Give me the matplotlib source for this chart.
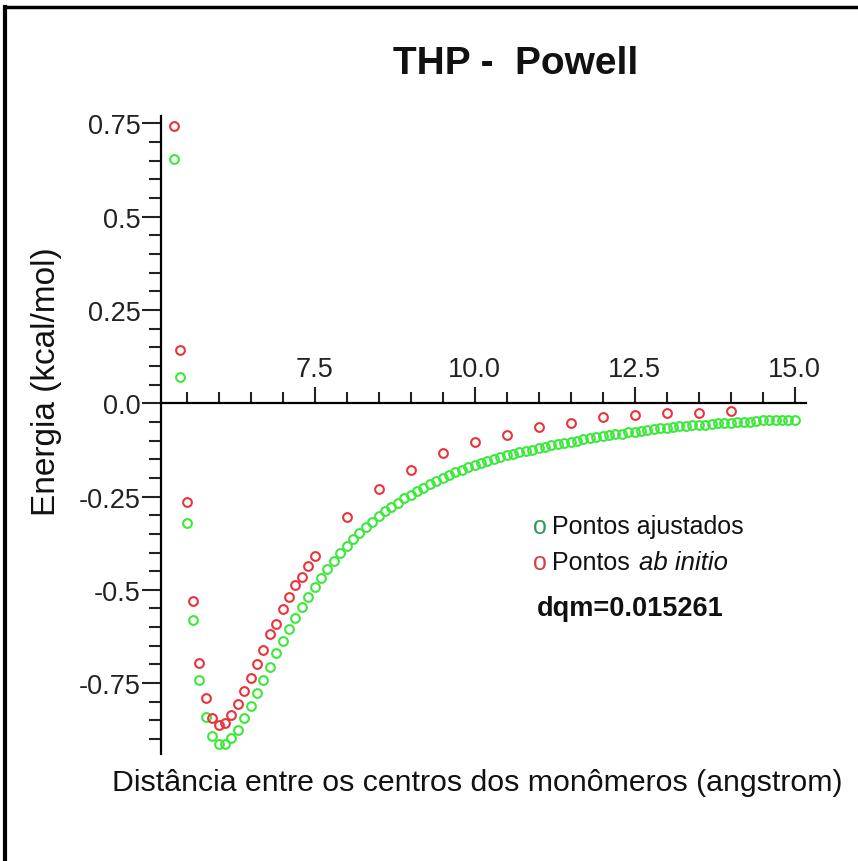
import matplotlib
matplotlib.use("Agg")
import matplotlib.pyplot as plt
from matplotlib.ticker import MultipleLocator, FixedLocator
from matplotlib.lines import Line2D

plt.rcParams['font.family'] = ['Liberation Sans', 'DejaVu Sans']

# ab initio points
x_abinitio = [5.3, 5.4, 5.5, 5.6, 5.7, 5.8, 5.9, 6.0, 6.1, 6.2, 6.3, 6.4, 6.5,
              6.6, 6.7, 6.8, 6.9, 7.0, 7.1, 7.2, 7.3, 7.4, 7.5,
              8.0, 8.5, 9.0, 9.5, 10.0, 10.5, 11.0, 11.5, 12.0, 12.5, 13.0, 13.5, 14.0]
y_abinitio = [0.743, 0.142, -0.265, -0.529, -0.695, -0.789, -0.843, -0.862, -0.858,
              -0.836, -0.807, -0.770, -0.737, -0.699, -0.661, -0.619, -0.592, -0.552,
              -0.520, -0.487, -0.465, -0.435, -0.409,
              -0.305, -0.230, -0.178, -0.134, -0.103, -0.085, -0.063, -0.052, -0.038,
              -0.031, -0.027, -0.027, -0.020]

# fitted points (0.1 step from 5.3 to 15.0)
x_fit = [round(5.3 + 0.1 * i, 1) for i in range(98)]
y_fit = [0.654, 0.070, -0.322, -0.581, -0.742, -0.840, -0.892, -0.914, -0.914, -0.898,
         -0.876, -0.843, -0.811, -0.777, -0.742, -0.706, -0.670, -0.637, -0.606, -0.575,
         -0.545, -0.518, -0.492, -0.468, -0.445, -0.423, -0.402, -0.382, -0.365, -0.348,
         -0.332, -0.317, -0.303, -0.290, -0.278, -0.266, -0.255, -0.245, -0.235, -0.226,
         -0.217, -0.208, -0.200, -0.193, -0.185, -0.178, -0.172, -0.165, -0.160, -0.154,
         -0.149, -0.144, -0.139, -0.135, -0.131, -0.127, -0.124, -0.120, -0.117, -0.113,
         -0.110, -0.106, -0.103, -0.100, -0.097, -0.094, -0.091, -0.088, -0.086, -0.083,
         -0.081, -0.078, -0.076, -0.074, -0.072, -0.070, -0.067, -0.065, -0.064, -0.062,
         -0.061, -0.059, -0.058, -0.057, -0.056, -0.054, -0.053, -0.052, -0.051, -0.050,
         -0.049, -0.047, -0.046, -0.046, -0.045, -0.045, -0.044, -0.044]

x_ticks = [7.5, 10.0, 12.5, 15.0]
x_ticklabels = ["7.5", "10.0", "12.5", "15.0"]
y_ticks = [0.75, 0.5, 0.25, 0.0, -0.25, -0.5, -0.75]
y_ticklabels = ["0.75", "0.5", "0.25", "0.0", "-0.25", "-0.5", "-0.75"]

W, H = 858, 862
fig = plt.figure(figsize=(W / 100, H / 100), dpi=100)
ax = fig.add_axes([161 / W, 1 - 755 / H, (805.6 - 161) / W, (755 - 117) / H])
ax.set_xlim(5.1, 15.17)
ax.set_ylim(-0.94, 0.77)

green = '#3de83d'
red = '#e8343c'
ax.plot(x_fit, y_fit, linestyle='none', marker='o', markersize=6.3,
        markerfacecolor='none', markeredgecolor=green, markeredgewidth=1.5, zorder=3)
ax.plot(x_abinitio, y_abinitio, linestyle='none', marker='o', markersize=6.3,
        markerfacecolor='none', markeredgecolor=red, markeredgewidth=1.5, zorder=4)

# spines
ax.spines['bottom'].set_visible(False)
ax.spines['right'].set_visible(False)
ax.spines['top'].set_position(('data', 0))
ax.spines['top'].set_linewidth(1.6)
ax.spines['left'].set_linewidth(1.6)
ax.spines['top'].set_zorder(5)

ax.xaxis.tick_top()
ax.xaxis.set_major_locator(FixedLocator(x_ticks))
ax.set_xticklabels(x_ticklabels)
ax.xaxis.set_minor_locator(MultipleLocator(0.5))
ax.tick_params(axis='x', which='major', direction='out', length=11.5, width=1.5,
               labelsize=19.5, pad=4, colors='#222222')
ax.tick_params(axis='x', which='minor', direction='out', length=8, width=1.5, colors='#222222')

ax.yaxis.set_major_locator(FixedLocator(y_ticks))
ax.set_yticklabels(y_ticklabels)
ax.yaxis.set_minor_locator(MultipleLocator(0.05))
ax.tick_params(axis='y', which='major', direction='out', length=13.5, width=1.5,
               labelsize=19.5, pad=1, colors='#222222')
ax.tick_params(axis='y', which='minor', direction='out', length=9, width=1.5, colors='#222222')
ax.patch.set_visible(False)

# title and labels
fig.text(516 / W, 1 - 64 / H, "THP -  Powell", ha='center', va='center',
         fontsize=28, fontweight='bold', color='#111111')
fig.text(477 / W, 1 - 783 / H, "Distância entre os centros dos monômeros (angstrom)",
         ha='center', va='center', fontsize=21.8, color='#111111')
fig.text(47 / W, 1 - 382 / H, "Energia (kcal/mol)", ha='center', va='center',
         rotation=90, fontsize=24, color='#111111')

# legend
fig.text(533 / W, 1 - 527 / H, "o", ha='left', va='center', fontsize=18, color='#2e9a58')
fig.text(552 / W, 1 - 527 / H, "Pontos ajustados", ha='left', va='center',
         fontsize=18, color='#111111')
fig.text(533 / W, 1 - 563 / H, "o", ha='left', va='center', fontsize=18, color='#d0404a')
fig.text(552 / W, 1 - 563 / H, "Pontos", ha='left', va='center',
         fontsize=18, color='#111111')
fig.text(639 / W, 1 - 563 / H, "ab initio", ha='left', va='center',
         fontsize=18.5, style='italic', color='#111111')
fig.text(537 / W, 1 - 609 / H, "dqm=0.015261", ha='left', va='center',
         fontsize=19.5, fontweight='bold', color='#111111')

# frame
fig.add_artist(Line2D([5 / W, 5 / W], [0, 1 - 8 / H], color='black', linewidth=3,
                      transform=fig.transFigure))
fig.add_artist(Line2D([5 / W, 1], [1 - 8 / H, 1 - 8 / H], color='black', linewidth=2.5,
                      transform=fig.transFigure))

fig.savefig("out.png", dpi=100)
